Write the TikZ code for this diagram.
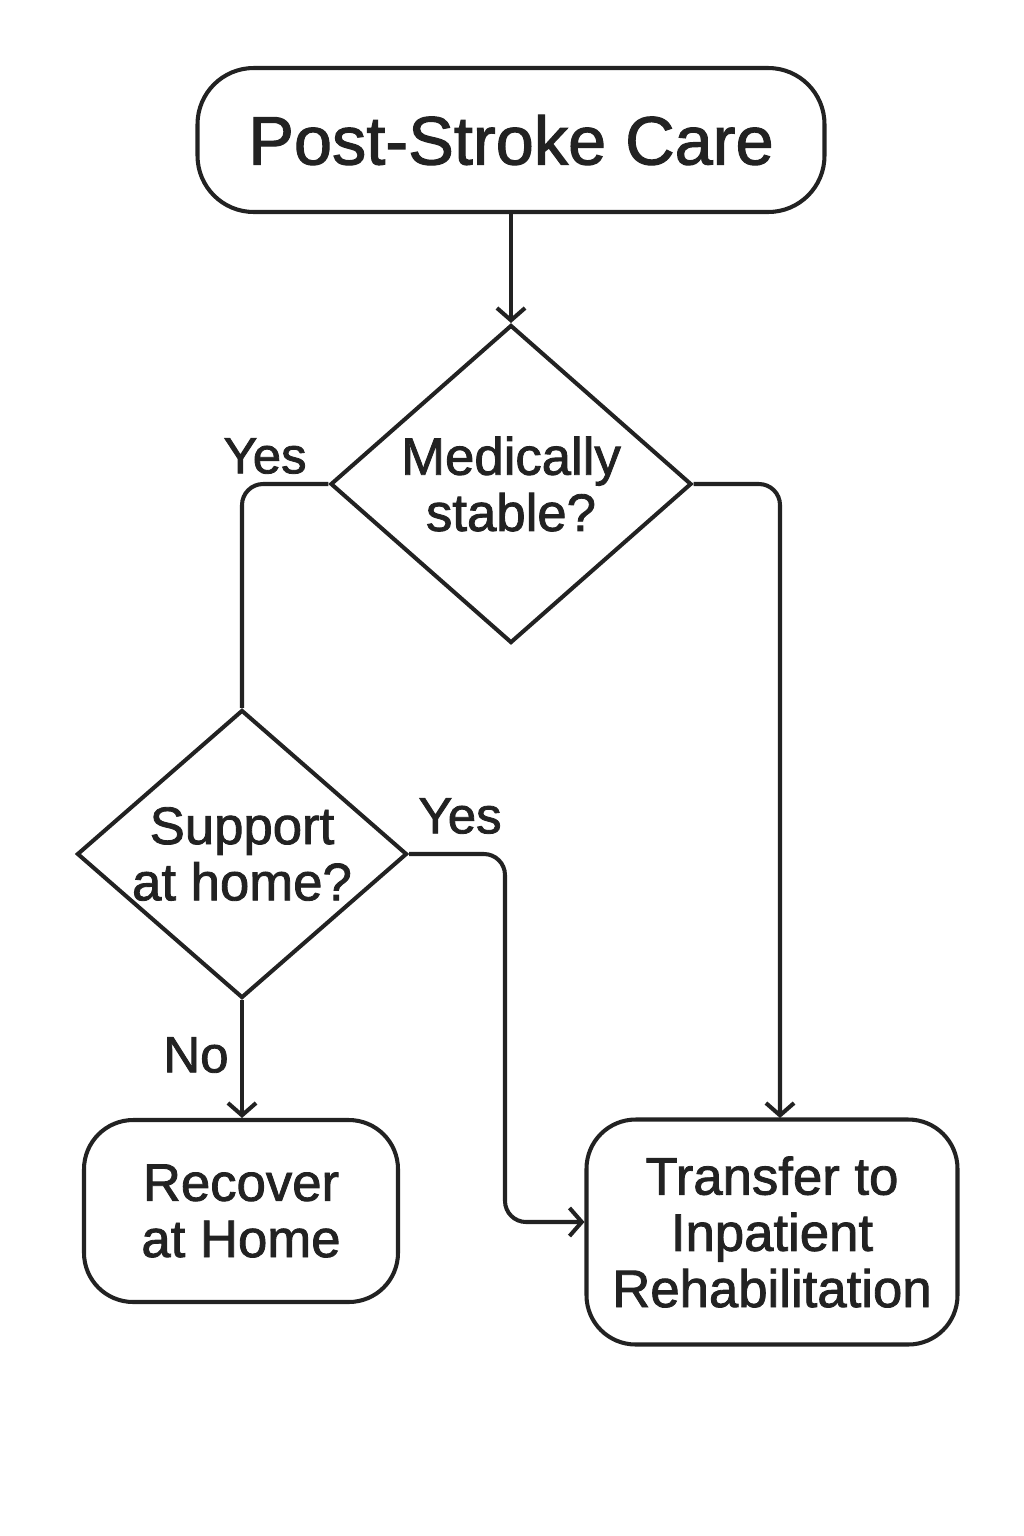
\documentclass[tikz,border=0pt]{standalone}
\usepackage{fontspec}
\setmainfont{Liberation Sans}[FakeBold=1.6,AutoFakeBold=1.6]
\usetikzlibrary{shapes.geometric,arrows.meta}
\definecolor{ink}{HTML}{222222}
\tikzset{
  box/.style={draw=ink, text=ink, rounded corners=32pt, line width=2.3pt, align=center, font=\bfseries\fontsize{30}{32}\selectfont},
  decision/.style={draw=ink, text=ink, diamond, line width=2.3pt, align=center, inner sep=-10pt, font=\bfseries\fontsize{30}{32}\selectfont},
  link/.style={draw=ink, line width=2.3pt, rounded corners=12pt},
  arr/.style={link, -{Straight Barb[length=7pt,width=16pt,line width=2.3pt]}},
  lbl/.style={text=ink, font=\bfseries\fontsize{29}{31}\selectfont}
}
\begin{document}
\begin{tikzpicture}[x=0.02cm,y=-0.02cm]
\useasboundingbox (0,0) rectangle (1024,1536);
\node[box, minimum width=627*0.02cm, minimum height=144*0.02cm, font=\bfseries\fontsize{39}{42}\selectfont] (care) at (511,140) {Post-Stroke Care};
\node[decision, minimum width=361*0.02cm, minimum height=318*0.02cm] (stable) at (511,484) {Medically\\stable?};
\node[decision, minimum width=330*0.02cm, minimum height=288*0.02cm] (support) at (242,854) {Support\\at home?};
\node[box, rounded corners=28pt, minimum width=314*0.02cm, minimum height=182*0.02cm] (home) at (241,1211) {Recover\\at Home};
\node[box, rounded corners=28pt, minimum width=371*0.02cm, minimum height=225*0.02cm] (rehab) at (772,1232) {Transfer to\\Inpatient\\Rehabilitation};
\coordinate (rehabtop) at (780,1118);
% connectors
\draw[arr] (care) -- (stable.north);
\draw[link] (stable.west) -- (242,484) -- (support.north);
\draw[arr] (stable.east) -- (780,484) -- (rehabtop);
\draw[arr] (support.south) -- (home.north -| support.south);
\draw[arr] (support.east) -- (505,854) -- (505,1222) -- (rehab.west |- 0,1222);
% labels
\node[lbl] (yes1) at (265,456) {Yes};
\node[lbl] (yes2) at (460,816) {Yes};
\node[lbl] (no) at (196,1055) {No};
\end{tikzpicture}
\end{document}
